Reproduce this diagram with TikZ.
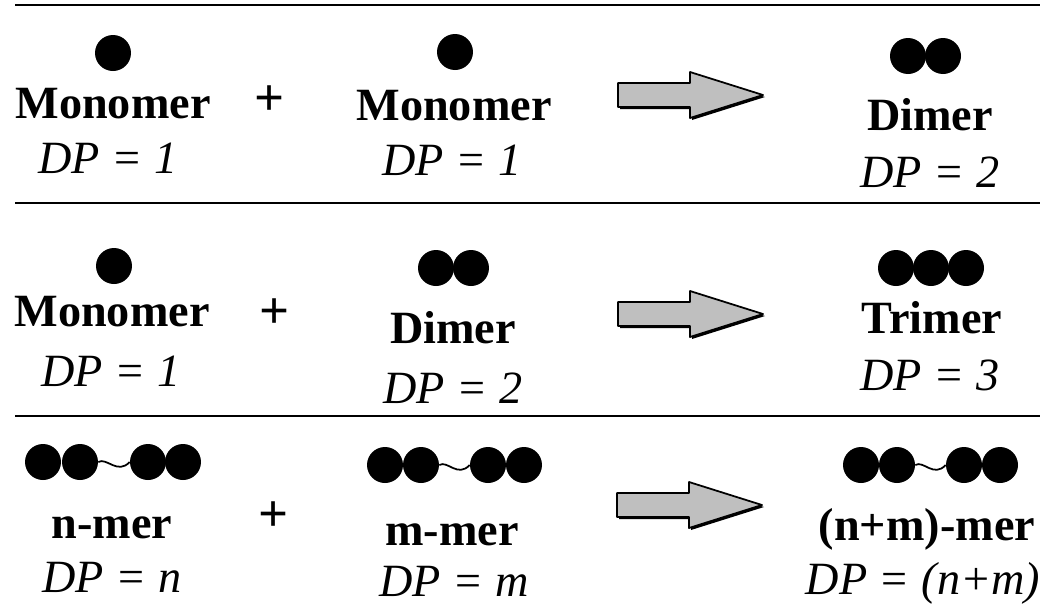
\documentclass[tikz,border=0pt]{standalone}
\usepackage{fontspec}
\setmainfont{Liberation Serif}
\usetikzlibrary{positioning}

\begin{document}
\begin{tikzpicture}[
  x=0.02cm, y=-0.02cm,
  merlbl/.style={font=\fontsize{26.3}{30}\selectfont\bfseries, anchor=base},
  dplbl/.style={font=\fontsize{26.3}{30}\selectfont\itshape, anchor=base},
  pluslbl/.style={font=\fontsize{30}{34}\selectfont\bfseries, inner sep=0pt},
  bead/.style={circle, fill=black, inner sep=0pt, minimum size=0.72cm},
  rule/.style={line width=1.5pt},
  bond/.style={line width=1pt},
  fatarrow/.pic={
    \fill[black, shift={(2,2)}] (0,-12) -- (72,-12) -- (72,-23) -- (145,0) -- (72,23) -- (72,12) -- (0,12) -- cycle;
    \draw[fill=black!25, line width=1pt, line join=round] (0,-12) -- (72,-12) -- (72,-23) -- (145,0) -- (72,23) -- (72,12) -- (0,12) -- cycle;
  }
]
  \useasboundingbox (0,0) rectangle (1049,606);

  % separating rules
  \draw[rule] (15,5) -- (1040,5);
  \draw[rule] (15,203) -- (1040,203);
  \draw[rule] (15,416) -- (1040,416);

  % Row 1: monomer + monomer -> dimer
  \node[bead] (m1a) at (113,53) {};
  \node[merlbl] (mono1a) at (113,118) {Monomer};
  \node[dplbl] (dp1a) at (108,173) {DP = 1};
  \node[pluslbl] (plus1) at (270,101) {+};
  \node[bead] (m1b) at (455,52) {};
  \node[merlbl] (mono1b) at (454,120) {Monomer};
  \node[dplbl] (dp1b) at (452,175) {DP = 1};
  \pic at (618,95) {fatarrow};
  \node[bead] (d1a) at (908,56) {};
  \node[bead] (d1b) at (943,56) {};
  \node[merlbl] (dim1) at (930,130) {Dimer};
  \node[dplbl] (dp1c) at (930,187) {DP = 2};

  % Row 2: monomer + dimer -> trimer
  \node[bead] (m2a) at (114,266) {};
  \node[merlbl] (mono2a) at (112,326) {Monomer};
  \node[dplbl] (dp2a) at (111,386) {DP = 1};
  \node[pluslbl] (plus2) at (275,314) {+};
  \node[bead] (d2a) at (436,268) {};
  \node[bead] (d2b) at (471,268) {};
  \node[merlbl] (dim2) at (453,343) {Dimer};
  \node[dplbl] (dp2b) at (453,403) {DP = 2};
  \pic at (618,314) {fatarrow};
  \foreach \x [count=\i] in {896,931,966}
    \node[bead] (t\i) at (\x,268) {};
  \node[merlbl] (tri2) at (932,333) {Trimer};
  \node[dplbl] (dp2c) at (930,390) {DP = 3};

  % Row 3: n-mer + m-mer -> (n+m)-mer
  \foreach \x [count=\i] in {43,80,148,183}
    \node[bead] (n\i) at (\x,462) {};
  \draw[bond] (n2.east) .. controls +(8,-5) and +(-12,13) .. (n3.west);
  \node[merlbl] (nmer) at (112,538) {n-mer};
  \node[dplbl] (dp3a) at (112,592) {DP = n};
  \node[pluslbl] (plus3) at (274,517) {+};
  \foreach \x [count=\i] in {385,421,488,524}
    \node[bead] (k\i) at (\x,465) {};
  \draw[bond] (k2.east) .. controls +(8,-5) and +(-12,13) .. (k3.west);
  \node[merlbl] (mmer) at (452,545) {m-mer};
  \node[dplbl] (dp3b) at (454,596) {DP = m};
  \pic at (617,505) {fatarrow};
  \foreach \x [count=\i] in {861,897,964,1000}
    \node[bead] (s\i) at (\x,465) {};
  \draw[bond] (s2.east) .. controls +(8,-5) and +(-12,13) .. (s3.west);
  \node[merlbl] (nmmer) at (927,540) {(n+m)-mer};
  \node[dplbl] (dp3c) at (923,594) {DP = (n+m)};
\end{tikzpicture}
\end{document}
